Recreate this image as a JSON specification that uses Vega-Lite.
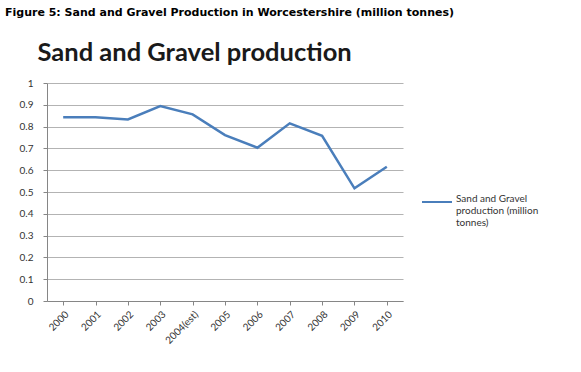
{
  "$schema": "https://vega.github.io/schema/vega-lite/v6.json",
  "autosize": {"type": "none"},
  "width": 356,
  "height": 218,
  "padding": {"left": 47, "top": 83, "right": 178, "bottom": 71},
  "background": "white",
  "title": {
    "text": "Figure 5: Sand and Gravel Production in Worcestershire (million tonnes)",
    "anchor": "start",
    "frame": "group",
    "dx": -42,
    "offset": 22,
    "font": "DejaVu Sans",
    "fontSize": 11,
    "fontWeight": "bold",
    "color": "#000000"
  },
  "data": {
    "values": [
      {"year": "2000", "series": "Sand and Gravel production (million tonnes)", "value": 0.843},
      {"year": "2001", "series": "Sand and Gravel production (million tonnes)", "value": 0.843},
      {"year": "2002", "series": "Sand and Gravel production (million tonnes)", "value": 0.833},
      {"year": "2003", "series": "Sand and Gravel production (million tonnes)", "value": 0.894},
      {"year": "2004(est)", "series": "Sand and Gravel production (million tonnes)", "value": 0.856},
      {"year": "2005", "series": "Sand and Gravel production (million tonnes)", "value": 0.761},
      {"year": "2006", "series": "Sand and Gravel production (million tonnes)", "value": 0.703},
      {"year": "2007", "series": "Sand and Gravel production (million tonnes)", "value": 0.815},
      {"year": "2008", "series": "Sand and Gravel production (million tonnes)", "value": 0.758},
      {"year": "2009", "series": "Sand and Gravel production (million tonnes)", "value": 0.517},
      {"year": "2010", "series": "Sand and Gravel production (million tonnes)", "value": 0.616}
    ]
  },
  "mark": {"type": "line", "strokeWidth": 2.5},
  "encoding": {
    "x": {
      "field": "year",
      "type": "ordinal",
      "sort": null,
      "scale": {"type": "point", "padding": 0.5},
      "axis": {
        "title": null,
        "labelAngle": -45,
        "labelAlign": "right",
        "labelBaseline": "top",
        "labelFont": "Lato",
        "labelFontSize": 10,
        "labelColor": "#333333",
        "labelPadding": 4,
        "domainColor": "#868686",
        "tickColor": "#868686",
        "tickSize": 4,
        "grid": false
      }
    },
    "y": {
      "field": "value",
      "type": "quantitative",
      "scale": {"domain": [0, 1], "nice": false},
      "axis": {
        "values": [0, 0.1, 0.2, 0.3, 0.4, 0.5, 0.6, 0.7, 0.8, 0.9, 1],
        "format": "~g",
        "title": "Sand and Gravel production",
        "titleX": -10,
        "titleY": -31,
        "titleAngle": 0,
        "titleAlign": "left",
        "titleBaseline": "middle",
        "titleFont": "Lato",
        "titleFontSize": 25.5,
        "titleFontWeight": "bold",
        "titleColor": "#1a1a1a",
        "labelFont": "Lato",
        "labelFontSize": 10,
        "labelColor": "#333333",
        "labelPadding": 10,
        "domainColor": "#868686",
        "tickColor": "#868686",
        "tickSize": 4,
        "gridColor": "#b3b3b3",
        "gridWidth": 1
      }
    },
    "color": {
      "field": "series",
      "type": "nominal",
      "scale": {"range": ["#4a7ebb"]},
      "legend": {
        "title": null,
        "orient": "none",
        "legendX": 374,
        "legendY": 103,
        "symbolType": "stroke",
        "symbolSize": 900,
        "symbolStrokeWidth": 2,
        "labelOffset": 3,
        "labelFont": "Lato",
        "labelFontSize": 10,
        "labelColor": "#333333",
        "labelBaseline": "alphabetic",
        "labelLimit": 200,
        "labelExpr": "['Sand and Gravel', 'production (million', 'tonnes)']"
      }
    }
  },
  "config": {
    "view": {"stroke": null},
    "legend": {"labelLineHeight": 14}
  }
}
